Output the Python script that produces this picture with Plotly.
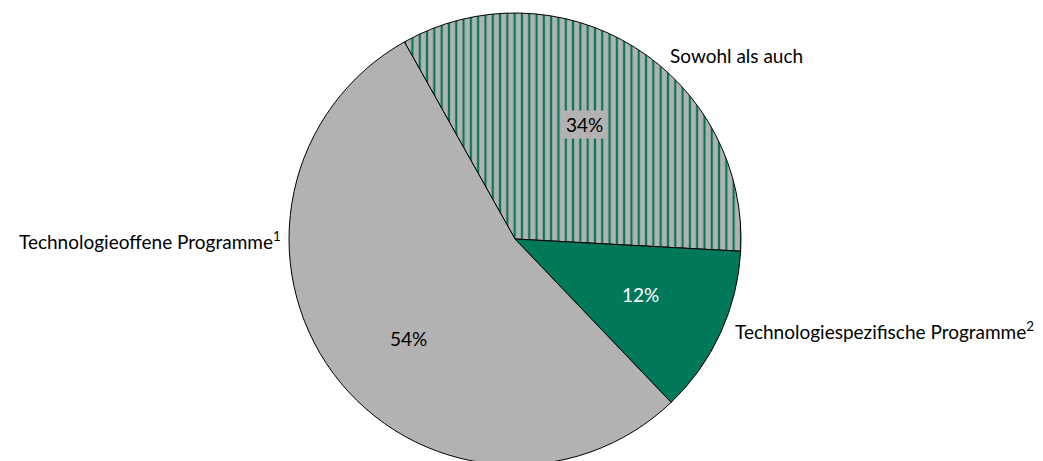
import plotly.graph_objects as go

# Data
labels = ["Sowohl als auch", "Technologiespezifische Programme<sup>2</sup>", "Technologieoffene Programme<sup>1</sup>"]
values = [34, 12, 54]

GREEN = "#00785A"
GRAY = "#B2B2B2"
FONT = "Lato"
FS = 19

fig = go.Figure()

# figure slightly taller than the window so the pie runs off the bottom edge as in the reference
W, H = 1043, 466
cx, cy_top, r = 515, 13, 226

fig.add_trace(go.Pie(
    labels=labels,
    values=values,
    sort=False,
    direction="clockwise",
    rotation=-29.3,
    hole=0,
    marker=dict(
        colors=[GRAY, GREEN, GRAY],
        line=dict(color="#000000", width=1),
        pattern=dict(
            shape=["|", "", ""],
            bgcolor=[GRAY, GREEN, GRAY],
            fgcolor=[GREEN, GREEN, GRAY],
            size=7.3,
            solidity=0.3,
        ),
    ),
    textinfo="none",
    showlegend=False,
    hoverinfo="label+percent",
    domain=dict(x=[(cx - r) / W, (cx + r) / W], y=[(H - cy_top - 2 * r) / H, (H - cy_top) / H]),
))

# outside category labels (pixel positions -> paper)
label_pos = [
    dict(x=668, y=55, xanchor="left"),
    dict(x=733, y=330, xanchor="left"),
    dict(x=283, y=240, xanchor="right"),
]
for lab, p in zip(labels, label_pos):
    fig.add_annotation(text=lab, x=p["x"] / W, y=1 - p["y"] / H, xref="paper", yref="paper",
                       xanchor=p["xanchor"], yanchor="middle", showarrow=False,
                       font=dict(family=FONT, size=FS, color="#000000"))

# percentage labels inside slices
pct_pos = [
    dict(x=584, y=124, color="#000000", bg=GRAY),
    dict(x=640, y=294, color="#FFFFFF", bg=None),
    dict(x=408, y=338, color="#000000", bg=None),
]
for v, p in zip(values, pct_pos):
    kw = {}
    if p["bg"]:
        kw = dict(bgcolor=p["bg"], borderpad=2)
    fig.add_annotation(text=f"{v}%", x=p["x"] / W, y=1 - p["y"] / H, xref="paper", yref="paper",
                       xanchor="center", yanchor="middle", showarrow=False,
                       font=dict(family=FONT, size=FS, color=p["color"]), **kw)

fig.update_layout(
    width=W, height=H,
    margin=dict(l=0, r=0, t=0, b=0),
    paper_bgcolor="white",
    plot_bgcolor="white",
    font=dict(family=FONT),
)

fig.write_html("out.html", config={"displayModeBar": False},
               post_script="document.body.style.margin='0';document.body.style.overflow='hidden';")
